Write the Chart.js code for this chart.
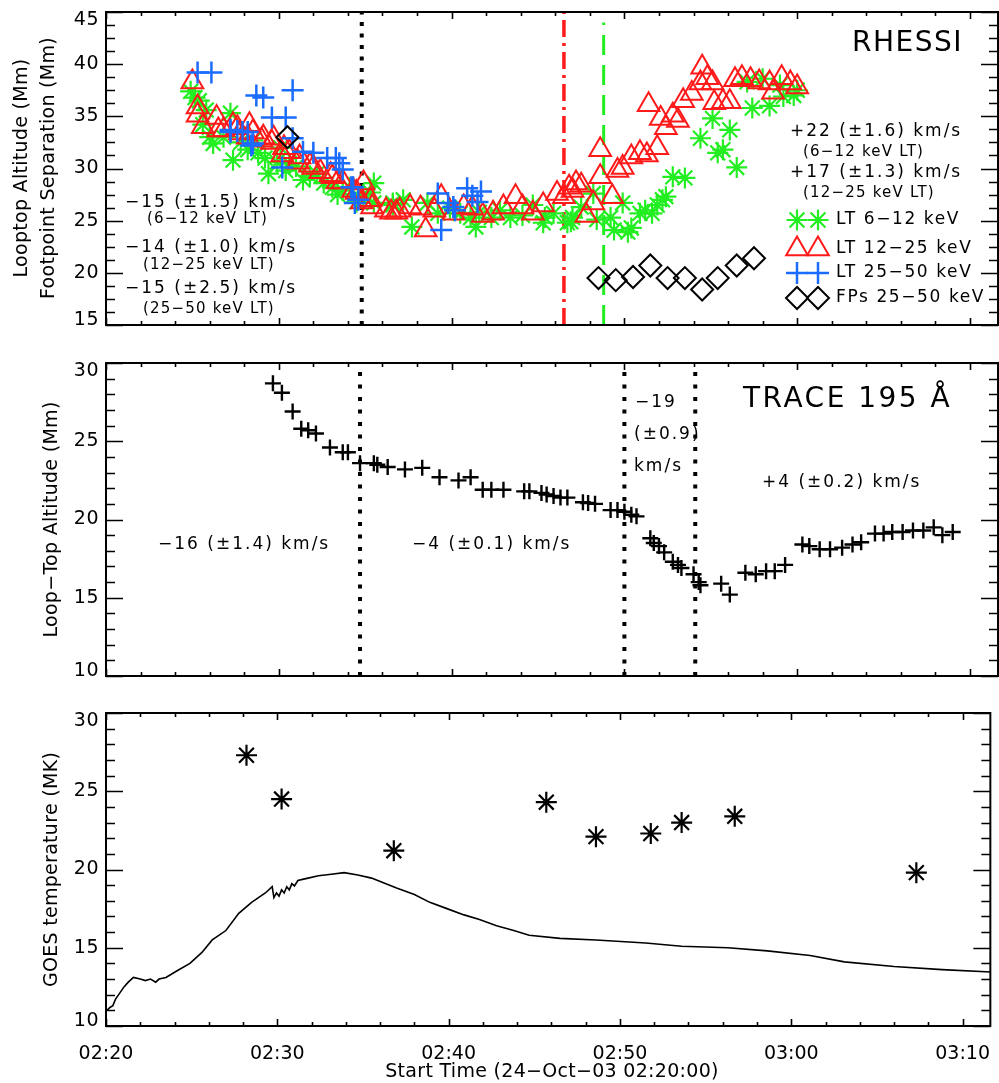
<!DOCTYPE html>
<html>
<head>
<meta charset="utf-8">
<script src="https://cdn.jsdelivr.net/npm/chart.js@4.4.1/dist/chart.umd.min.js"></script>
<style>
  body { margin: 0; background: #fff; }
  #wrap { position: relative; width: 999px; height: 1083px; background: #fff; }
  canvas { position: absolute; left: 0; }
</style>
</head>
<body>
<div id="wrap">
  <canvas id="rhessi" width="999" height="340" style="top:0px"></canvas>
  <canvas id="trace" width="999" height="350" style="top:340px"></canvas>
  <canvas id="goes" width="999" height="393" style="top:690px"></canvas>
</div>

<script>
    /*
     * Data: x in minutes after 02:20 UT, y in Mm or MK
     */
    var xTickValues = [0, 10, 20, 30, 40, 50];
    var xTickLabels = ["02:20", "02:30", "02:40", "02:50", "03:00", "03:10"];
    var xMax = 51.62;

    // RHESSI panel
    var lt612 = [[4.9,37.4],[5.15,36.8],[5.4,36.5],[5.6,34.2],[5.8,35.6],[6.0,33.0],[6.2,32.4],[6.8,33.0],[7.2,35.3],
        [7.35,30.8],[7.8,32.5],[8.2,31.8],[8.5,32.7],[8.8,31.5],[9.2,31.0],[9.4,29.5],[9.9,30.6],[10.1,32.0],[10.4,29.8],
        [10.6,30.5],[11.0,30.2],[11.4,28.9],[11.8,29.3],[12.2,29.5],[12.6,28.6],[13.1,28.2],[13.4,27.5],[13.7,27.9],
        [14.1,28.2],[14.5,26.8],[14.9,27.5],[15.3,27.7],[15.5,28.6],[15.5,26.7],[16.6,26.7],[16.6,26.5],[17.2,27.0],
        [17.7,24.4],[18.6,26.7],[19.2,25.7],[19.9,26.2],[20.5,25.7],[21.1,25.3],[21.4,24.4],[21.6,25.8],[22.3,25.3],
        [22.8,26.0],[23.4,25.3],[24.1,25.5],[24.7,26.5],[25.3,24.8],[25.4,25.3],[25.9,25.7],[26.7,24.8],[26.9,24.9],
        [27.0,25.3],[27.5,26.3],[28.2,27.6],[28.4,25.1],[29.2,25.3],[29.4,24.1],[29.9,26.7],[30.2,23.9],[30.4,24.3],
        [30.9,25.7],[31.2,26.0],[31.6,25.7],[31.9,26.5],[32.2,27.0],[32.4,27.3],[32.8,29.2],[33.5,29.1],[34.4,32.9],
        [35.1,34.8],[35.4,31.5],[35.7,31.8],[36.1,33.7],[36.5,30.1],[37.1,38.3],[37.4,35.8],[38.0,38.6],[38.4,36.0],
        [39.0,38.0],[39.2,36.9],[39.8,37.0],[40.0,37.5]];
    var lt1225 = [[5.0,38.3],[5.3,35.9],[5.3,35.1],[5.6,34.0],[6.4,34.9],[6.5,33.7],[6.8,33.7],[7.35,34.2],[7.6,33.9],
        [7.75,33.4],[8.2,33.0],[8.3,34.2],[8.5,33.5],[9.0,32.7],[9.1,33.0],[9.6,32.5],[9.7,32.9],[10.2,31.3],[10.3,32.0],
        [10.6,31.6],[11.1,30.6],[11.2,31.1],[11.8,30.3],[12.0,30.1],[12.4,29.7],[13.0,29.4],[13.1,29.2],[13.4,28.7],
        [13.7,28.7],[14.3,27.9],[14.5,27.7],[14.8,26.8],[14.9,28.6],[15.3,27.0],[15.4,26.3],[16.2,26.0],[16.5,25.8],
        [16.8,25.8],[17.0,26.0],[17.6,26.3],[18.2,26.2],[18.5,24.1],[19.0,26.0],[19.4,27.3],[20.1,25.7],[20.7,26.3],
        [21.2,26.2],[21.8,25.5],[22.4,25.7],[23.0,26.3],[23.7,27.3],[24.1,26.3],[24.7,25.7],[25.3,26.5],[26.1,27.6],
        [26.5,27.3],[26.8,28.2],[27.0,27.9],[27.2,28.6],[27.5,28.4],[27.8,25.5],[28.2,26.7],[28.6,29.2],[28.6,31.8],
        [29.3,27.3],[29.6,29.8],[29.9,30.1],[30.4,31.1],[30.9,31.5],[31.3,31.3],[31.4,36.1],[31.9,32.0],[32.1,34.8],
        [32.4,33.9],[32.8,35.1],[33.1,34.6],[33.4,36.5],[33.9,37.2],[34.4,38.2],[34.5,39.7],[34.8,38.7],[35.1,38.2],
        [35.2,36.3],[35.7,36.4],[36.1,36.4],[36.4,38.5],[36.8,38.7],[37.3,38.5],[37.8,38.3],[38.4,38.2],[38.6,37.3],
        [39.1,38.7],[39.6,38.2],[40.0,37.8]];
    var lt2550 = [[5.3,39.2],[6.1,39.2],[7.2,33.5],[7.2,33.7],[7.6,33.6],[7.9,33.5],[8.2,33.5],[8.4,32.2],[8.5,32.4],
        [8.7,37.0],[9.1,36.8],[9.6,34.9],[10.2,30.1],[10.4,34.9],[10.8,37.5],[10.8,32.9],[11.4,31.6],[12.0,31.5],
        [12.8,31.0],[13.3,31.0],[13.5,30.5],[13.7,29.9],[14.2,28.2],[14.3,28.2],[14.4,26.7],[14.6,27.0],[19.2,27.6],
        [19.4,24.1],[19.8,26.7],[20.1,26.3],[20.2,26.0],[20.9,28.1],[21.2,27.4],[21.5,26.8],[21.7,27.8]];
    var fp2550 = [[10.5,33.0],[28.5,19.5],[29.5,19.3],[30.5,19.6],[31.5,20.7],[32.5,19.5],[33.5,19.5],[34.5,18.4],
        [35.4,19.5],[36.5,20.7],[37.5,21.4]];
    var rhessiLines = { dotted: 14.8, dashDot: 26.5, dashed: 28.8 };

    // TRACE 195 panel
    var trace195 = [[9.66,28.7],[10.18,28.1],[10.8,26.9],[11.3,25.8],[11.7,25.7],[12.15,25.5],[12.96,24.6],[13.7,24.3],
        [14.0,24.3],[14.7,23.6],[15.5,23.6],[15.7,23.5],[16.3,23.35],[17.3,23.2],[18.3,23.3],[19.3,22.7],[20.4,22.5],
        [21.1,22.7],[21.8,21.9],[22.3,21.9],[23.0,21.9],[24.2,21.8],[24.5,21.8],[25.2,21.7],[25.5,21.6],[25.9,21.5],
        [26.3,21.4],[26.7,21.4],[27.6,21.1],[27.9,21.05],[28.3,21.0],[29.2,20.6],[29.6,20.6],[30.0,20.5],[30.4,20.3],
        [30.7,20.2],[31.5,18.8],[31.7,18.5],[32.0,18.3],[32.3,17.9],[32.8,17.3],[33.1,17.1],[33.3,16.9],[34.0,16.5],
        [34.3,16.0],[34.4,15.8],[35.6,15.9],[36.1,15.2],[37.0,16.6],[37.6,16.5],[38.2,16.7],[38.7,16.7],[39.3,17.1],
        [40.3,18.4],[40.7,18.3],[41.3,18.1],[41.9,18.1],[42.6,18.2],[43.2,18.4],[43.7,18.55],[44.5,19.1],[45.0,19.1],
        [45.5,19.2],[46.1,19.2],[46.7,19.3],[47.3,19.3],[47.9,19.5],[48.4,19.0],[49.0,19.2]];
    var traceLines = [14.7, 30.0, 34.1];

    // GOES panel
    var goesTemp = [[0.05,11.0],[0.25,11.2],[0.4,11.3],[0.55,11.7],[0.8,12.1],[1.05,12.5],[1.3,12.8],[1.6,13.1],
        [2.0,13.0],[2.3,12.9],[2.6,13.0],[2.9,12.8],[3.1,13.0],[3.5,13.1],[4.1,13.5],[4.9,14.0],[5.6,14.7],[6.2,15.5],
        [7.0,16.1],[7.75,17.2],[8.5,17.9],[9.3,18.5],[9.7,18.9],[9.8,18.2],[9.95,18.5],[10.1,18.3],[10.25,18.7],
        [10.4,18.5],[10.55,18.9],[10.7,18.7],[10.85,19.1],[11.0,18.95],[11.2,19.3],[11.6,19.4],[12.4,19.6],[13.15,19.7],
        [13.9,19.8],[14.7,19.65],[15.5,19.45],[16.3,19.1],[17.0,18.8],[18.0,18.4],[18.9,17.9],[19.9,17.5],[20.9,17.1],
        [21.8,16.8],[22.8,16.4],[23.8,16.1],[24.7,15.8],[26.5,15.6],[28.6,15.5],[31.5,15.3],[33.6,15.1],[36.3,15.0],
        [38.6,14.8],[41.1,14.5],[43.1,14.1],[46.0,13.8],[48.8,13.6],[51.7,13.45]];
    var rhessiTemp = [[8.2,27.3],[10.25,24.5],[16.8,21.2],[25.7,24.3],[28.6,22.1],[31.8,22.3],[33.6,23.0],[36.7,23.4],
        [47.3,19.8]];

    /*
     * Style
     */
    Chart.defaults.font.family = "DejaVu Sans";
    Chart.defaults.color = "#000";
    var FONT = "DejaVu Sans";
    var GREEN = "#22ee22", RED = "#ff1a1a", BLUE = "#1a6cff";

    function pts(arr) { return arr.map(p => ({ x: p[0], y: p[1] })); }
    function vline(x, y0, y1) { return [{ x: x, y: y0 }, { x: x, y: y1 }]; }

    function drawText(ctx, t) {
        ctx.save();
        ctx.font = (t.size || 17) + "px " + FONT;
        ctx.letterSpacing = (t.sp === undefined ? 2 : t.sp) + "px";
        ctx.textAlign = t.align || "left";
        ctx.textBaseline = "middle";
        ctx.translate(t.x, t.y);
        if (t.rot) ctx.rotate(t.rot);
        ctx.fillText(t.text, 0, 0);
        ctx.restore();
    }

    // IDL style box: inward ticks on all four sides, y labels, plus free text
    const idlBox = {
        id: 'idlBox',
        afterDraw(chart, args, opts) {
            const ctx = chart.ctx, a = chart.chartArea;
            const xs = chart.scales.x, ys = chart.scales.y;
            ctx.save();
            ctx.strokeStyle = "#000";
            ctx.lineWidth = 1.6;
            ctx.beginPath();
            for (let v = 0; v <= xs.max + 1e-6; v += 2) {
                const px = Math.round(xs.getPixelForValue(v)) + 0.5;
                const len = (v % 10 === 0) ? 7 : 4;
                ctx.moveTo(px, a.bottom); ctx.lineTo(px, a.bottom - len);
                ctx.moveTo(px, a.top); ctx.lineTo(px, a.top + len);
            }
            const n = Math.round((ys.max - ys.min) / opts.yMinor);
            for (let i = 0; i <= n; i++) {
                const v = ys.min + i * opts.yMinor;
                const py = Math.round(ys.getPixelForValue(v)) + 0.5;
                const major = Math.abs(v / 5 - Math.round(v / 5)) < 1e-6;
                const len = major ? 17 : 9;
                ctx.moveTo(a.left, py); ctx.lineTo(a.left + len, py);
                ctx.moveTo(a.right, py); ctx.lineTo(a.right - len, py);
            }
            ctx.stroke();
            ctx.lineWidth = 2;
            ctx.strokeRect(a.left, a.top, a.right - a.left, a.bottom - a.top);

            ctx.fillStyle = "#000";
            // y tick labels, end labels pulled inside like IDL does
            opts.yTicks.forEach((v, i) => {
                let py = ys.getPixelForValue(v);
                if (i === 0) py -= 5;
                if (i === opts.yTicks.length - 1) py += 8;
                drawText(ctx, { text: String(v), x: 99, y: py, align: "right", size: 19, sp: 0.5 });
            });
            (opts.texts || []).forEach(t => drawText(ctx, t));
            (opts.legend || []).forEach(l => {
                ctx.save();
                ctx.strokeStyle = l.color;
                ctx.fillStyle = "rgba(0,0,0,0)";
                ctx.lineWidth = l.width;
                [797, 818].forEach(px => {
                    Chart.helpers.drawPoint(ctx, { pointStyle: l.style, radius: l.radius, rotation: 0, borderWidth: l.width }, px, l.y);
                });
                ctx.restore();
                drawText(ctx, { text: l.text, x: 836, y: l.y, size: 17, sp: 1.6 });
            });
            ctx.restore();
        }
    };

    function makePanel(id, cfg) {
        return new Chart(document.getElementById(id), {
            type: 'scatter',
            data: { datasets: cfg.datasets },
            options: {
                responsive: false,
                animation: false,
                devicePixelRatio: 1,
                events: [],
                layout: { autoPadding: false, padding: { top: cfg.top, right: 1, left: 0, bottom: 0 } },
                plugins: { legend: { display: false }, tooltip: { enabled: false },
                    idlBox: { yMinor: cfg.yMinor, yTicks: cfg.yTicks, texts: cfg.texts, legend: cfg.legend } },
                scales: {
                    x: {
                        type: 'linear', min: 0, max: xMax,
                        grid: { display: false }, border: { display: false },
                        ticks: {
                            display: cfg.xLabels, padding: 9,
                            font: { size: 19 }, maxRotation: 0,
                            callback: (v) => xTickLabels[xTickValues.indexOf(v)]
                        },
                        afterBuildTicks: (s) => { s.ticks = xTickValues.map(v => ({ value: v })); },
                        afterFit: (s) => { s.height = cfg.xHeight; }
                    },
                    y: {
                        type: 'linear', min: cfg.yMin, max: cfg.yMax,
                        grid: { display: false }, border: { display: false },
                        ticks: { display: false },
                        afterFit: (s) => { s.width = 106; }
                    }
                }
            },
            plugins: [idlBox]
        });
    }

    var noBg = "rgba(0,0,0,0)";
    var lineBase = { showLine: true, pointRadius: 0, fill: false, borderCapStyle: 'butt' };

    makePanel("rhessi", {
        top: 12, xHeight: 15, xLabels: false,
        yMin: 15, yMax: 45, yTicks: [15, 20, 25, 30, 35, 40, 45], yMinor: 1.25,
        datasets: [
            { label: "FPs 25-50 keV", data: pts(fp2550), pointStyle: 'rectRot', pointRadius: 11,
              borderColor: "#000", backgroundColor: noBg, borderWidth: 2 },
            { label: "LT 25-50 keV", data: pts(lt2550), pointStyle: 'cross', pointRadius: 11,
              borderColor: BLUE, backgroundColor: noBg, borderWidth: 2.5 },
            { label: "LT 12-25 keV", data: pts(lt1225), pointStyle: 'triangle', pointRadius: 12.5,
              borderColor: RED, backgroundColor: noBg, borderWidth: 2 },
            { label: "LT 6-12 keV", data: pts(lt612), pointStyle: 'star', pointRadius: 10.5,
              borderColor: GREEN, backgroundColor: noBg, borderWidth: 2.2 },
            Object.assign({ data: vline(rhessiLines.dotted, 15, 45), borderColor: "#000", borderWidth: 4, borderDash: [4, 7.5] }, lineBase),
            Object.assign({ data: vline(rhessiLines.dashDot, 15, 45), borderColor: RED, borderWidth: 3.5, borderDash: [17, 6, 3, 6] }, lineBase),
            Object.assign({ data: vline(rhessiLines.dashed, 15, 44), borderColor: GREEN, borderWidth: 3, borderDash: [20, 10] }, lineBase)
        ],
        texts: [
            { text: "Looptop Altitude (Mm)", x: 22, y: 168, rot: -Math.PI / 2, align: "center", size: 19, sp: 0.3 },
            { text: "Footpoint Separation (Mm)", x: 49, y: 168, rot: -Math.PI / 2, align: "center", size: 19, sp: 0.3 },
            { text: "RHESSI", x: 852, y: 44, size: 28, sp: 1.5 },
            { text: "\u221215 (\u00b11.5) km/s", x: 125, y: 203 },
            { text: "(6\u221212 keV LT)", x: 147, y: 219, size: 15, sp: 1.2 },
            { text: "\u221214 (\u00b11.0) km/s", x: 125, y: 248 },
            { text: "(12\u221225 keV LT)", x: 143, y: 265, size: 15, sp: 1.2 },
            { text: "\u221215 (\u00b12.5) km/s", x: 125, y: 289 },
            { text: "(25\u221250 keV LT)", x: 143, y: 309, size: 15, sp: 1.2 },
            { text: "+22 (\u00b11.6) km/s", x: 790, y: 132 },
            { text: "(6\u221212 keV LT)", x: 803, y: 152, size: 15, sp: 1.2 },
            { text: "+17 (\u00b11.3) km/s", x: 790, y: 173 },
            { text: "(12\u221225 keV LT)", x: 803, y: 193, size: 15, sp: 1.2 }
        ],
        legend: [
            { text: "LT 6\u221212 keV", style: 'star', radius: 10.5, width: 2.2, color: GREEN, y: 220 },
            { text: "LT 12\u221225 keV", style: 'triangle', radius: 12.5, width: 2, color: RED, y: 249 },
            { text: "LT 25\u221250 keV", style: 'cross', radius: 11, width: 2.5, color: BLUE, y: 273 },
            { text: "FPs 25\u221250 keV", style: 'rectRot', radius: 11, width: 2, color: "#000", y: 298 }
        ]
    });

    makePanel("trace", {
        top: 23, xHeight: 14, xLabels: false,
        yMin: 10, yMax: 30, yTicks: [10, 15, 20, 25, 30], yMinor: 1,
        datasets: [
            { label: "TRACE 195", data: pts(trace195), pointStyle: 'cross', pointRadius: 8,
              borderColor: "#000", backgroundColor: noBg, borderWidth: 2.4 },
            Object.assign({ data: vline(traceLines[0], 10, 30), borderColor: "#000", borderWidth: 4, borderDash: [4, 8.5] }, lineBase),
            Object.assign({ data: vline(traceLines[1], 10, 30), borderColor: "#000", borderWidth: 4, borderDash: [4, 8.5] }, lineBase),
            Object.assign({ data: vline(traceLines[2], 10, 30), borderColor: "#000", borderWidth: 4, borderDash: [4, 8.5] }, lineBase)
        ],
        texts: [
            { text: "Loop\u2212Top Altitude (Mm)", x: 52, y: 179.5, rot: -Math.PI / 2, align: "center", size: 19, sp: 0.3 },
            { text: "TRACE 195 \u00c5", x: 743, y: 60, size: 28, sp: 2.5 },
            { text: "\u221216 (\u00b11.4) km/s", x: 158, y: 205 },
            { text: "\u22124 (\u00b10.1) km/s", x: 412, y: 205 },
            { text: "\u221219", x: 635, y: 63 },
            { text: "(\u00b10.9)", x: 634, y: 95 },
            { text: "km/s", x: 634, y: 127 },
            { text: "+4 (\u00b10.2) km/s", x: 762, y: 143 }
        ]
    });

    makePanel("goes", {
        top: 23, xHeight: 57, xLabels: true,
        yMin: 10, yMax: 30, yTicks: [10, 15, 20, 25, 30], yMinor: 1,
        datasets: [
            { label: "RHESSI T", data: pts(rhessiTemp), pointStyle: 'star', pointRadius: 10.5,
              borderColor: "#000", backgroundColor: noBg, borderWidth: 2.2 },
            Object.assign({ label: "GOES T", data: pts(goesTemp), borderColor: "#000", borderWidth: 1.6, tension: 0 }, lineBase)
        ],
        texts: [
            { text: "GOES temperature (MK)", x: 52, y: 179.5, rot: -Math.PI / 2, align: "center", size: 19, sp: 0.3 },
            { text: "Start Time (24\u2212Oct\u221203 02:20:00)", x: 552, y: 382, align: "center", size: 19, sp: 0.3 }
        ]
    });
</script>
</body>
</html>
